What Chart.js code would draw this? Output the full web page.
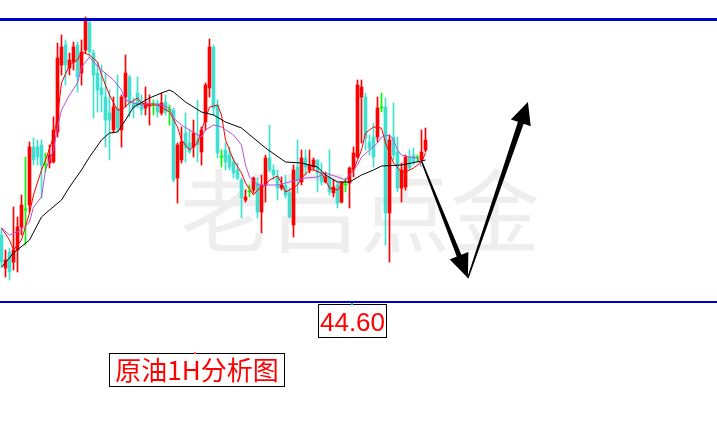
<!DOCTYPE html>
<html>
<head>
<meta charset="utf-8">
<script src="https://cdn.jsdelivr.net/npm/chart.js@4.4.1/dist/chart.umd.min.js"></script>
<style>
  html, body { margin: 0; padding: 0; background: #fff; }
  #chart { display: block; }
</style>
</head>
<body>
<canvas id="chart" width="717" height="440"></canvas>
<script>
// hourly candles
const opens = [
  45.27, 44.94, 45.10, 45.00, 45.12, 45.35, 45.52, 45.57, 46.15, 46.15,
  46.17, 45.97, 45.99, 46.00, 46.30, 46.97, 47.17, 46.94, 47.00, 47.17,
  46.89, 47.12, 47.39, 47.09, 46.89, 46.74, 46.65, 46.49, 46.32, 46.54,
  46.32, 46.65, 46.85, 46.59, 46.69, 46.59, 46.54, 46.56, 46.57, 46.59,
  46.49, 46.60, 46.52, 46.52, 45.84, 46.02, 46.29, 46.19, 46.15, 46.22,
  46.10, 46.40, 46.74, 47.15, 46.57, 46.05, 46.12, 46.07, 46.00, 45.92,
  45.82, 45.62, 45.70, 45.72, 45.79, 45.50, 45.77, 46.04, 45.92, 45.85,
  45.74, 45.77, 45.69, 45.37, 45.95, 45.80, 46.04, 45.92, 45.95, 46.02,
  45.89, 45.80, 45.84, 45.69, 45.77, 45.60, 45.77, 45.79, 45.92, 46.05,
  46.65, 46.65, 46.20, 46.25, 46.25, 46.54, 46.55, 45.49, 46.25, 46.10,
  45.74, 45.75, 46.05, 46.07, 46.04, 46.02, 46.12
];
const highs = [
  45.34, 45.12, 45.14, 45.55, 45.45, 45.67, 46.05, 46.20, 46.24, 46.22,
  46.22, 46.09, 46.17, 46.45, 47.19, 47.27, 47.22, 47.09, 47.20, 47.20,
  47.22, 47.45, 47.42, 47.12, 47.00, 46.97, 46.89, 46.72, 46.65, 46.87,
  46.67, 47.07, 46.87, 46.64, 46.85, 46.67, 46.75, 46.67, 46.62, 46.62,
  46.69, 46.67, 46.57, 46.54, 46.19, 46.35, 46.49, 46.32, 46.42, 46.62,
  46.35, 46.79, 47.23, 47.17, 46.62, 46.12, 46.19, 46.15, 46.04, 45.99,
  45.84, 45.72, 45.77, 45.85, 45.84, 45.87, 46.07, 46.37, 45.97, 45.92,
  45.85, 45.87, 45.74, 45.97, 46.22, 46.12, 46.12, 46.12, 46.04, 46.02,
  45.99, 45.90, 46.12, 45.82, 45.79, 45.80, 45.84, 45.95, 46.15, 46.82,
  46.82, 46.69, 46.27, 46.39, 46.65, 46.69, 46.64, 46.27, 46.59, 46.25,
  45.99, 46.07, 46.12, 46.14, 46.07, 46.32, 46.34
];
const lows = [
  44.94, 44.85, 44.82, 44.92, 44.90, 45.27, 45.17, 45.50, 45.97, 45.97,
  45.64, 45.90, 45.94, 45.99, 46.25, 46.87, 46.77, 46.87, 46.92, 46.70,
  46.77, 47.09, 47.05, 46.44, 46.50, 46.50, 46.15, 46.02, 46.29, 46.30,
  46.15, 46.55, 46.45, 46.44, 46.54, 46.47, 46.47, 46.37, 46.47, 46.45,
  46.47, 46.47, 46.37, 45.80, 45.59, 45.99, 46.00, 46.09, 46.05, 46.00,
  45.97, 46.32, 46.65, 46.47, 46.04, 45.95, 45.92, 45.92, 45.84, 45.82,
  45.44, 45.60, 45.65, 45.69, 45.44, 45.29, 45.60, 45.90, 45.82, 45.62,
  45.72, 45.64, 45.44, 45.25, 45.69, 45.77, 45.87, 45.89, 45.92, 45.70,
  45.77, 45.79, 45.67, 45.65, 45.54, 45.59, 45.70, 45.54, 45.85, 46.04,
  46.19, 46.12, 46.07, 45.95, 46.20, 46.50, 45.17, 45.00, 46.02, 45.70,
  45.60, 45.72, 45.92, 45.97, 46.00, 46.00, 46.10
];
const closes = [
  45.00, 45.02, 44.90, 45.12, 45.35, 45.57, 45.52, 46.15, 46.02, 46.05,
  45.97, 45.97, 46.07, 46.32, 47.04, 47.15, 46.97, 47.02, 47.15, 46.85,
  47.10, 47.42, 47.10, 46.87, 46.72, 46.67, 46.42, 46.42, 46.55, 46.34,
  46.65, 46.89, 46.59, 46.54, 46.57, 46.52, 46.59, 46.57, 46.57, 46.50,
  46.59, 46.50, 46.52, 45.82, 46.17, 46.20, 46.14, 46.10, 46.29, 46.17,
  46.32, 46.77, 47.15, 46.54, 46.09, 46.05, 46.00, 45.95, 45.89, 45.84,
  45.64, 45.65, 45.70, 45.84, 45.50, 45.77, 46.04, 45.92, 45.87, 45.74,
  45.77, 45.67, 45.45, 45.92, 45.82, 46.04, 45.95, 45.97, 46.02, 45.89,
  45.80, 45.85, 45.70, 45.75, 45.59, 45.79, 45.77, 45.94, 46.09, 46.77,
  46.75, 46.24, 46.14, 46.05, 46.54, 46.54, 45.49, 46.22, 46.07, 45.74,
  45.92, 46.05, 45.94, 46.00, 46.04, 46.10, 46.22
];

// moving averages at these candle indexes
const maFastIdx = [0,2,3,5,7,8,10,11,13,14,15,17,19,20,22,24,25,27,29,30,32,34,35,37,39,40,42,44,45,47,49,50,52,54,55,56,58,60,61,63,64,66,67,69,70,71,72,74,75,77,78,80,81,82,84,85,88,90,91,93,95,96,98,100,101,103,105,106];
const maFastVal = [45.34,45.22,45.12,45.22,45.49,45.67,45.92,46.02,46.25,46.45,46.79,46.97,47.02,47.10,47.07,47.00,46.87,46.67,46.52,46.52,46.59,46.64,46.59,46.57,46.57,46.55,46.50,46.35,46.22,46.12,46.19,46.32,46.55,46.57,46.47,46.22,46.02,45.89,45.79,45.67,45.72,45.77,45.82,45.86,45.79,45.70,45.72,45.77,45.84,45.92,45.92,45.89,45.82,45.74,45.72,45.77,45.92,46.12,46.29,46.35,46.34,46.19,45.99,45.90,45.90,45.94,46.00,46.09];
const maMidIdx = [0,2,5,7,8,10,11,13,14,15,17,19,20,22,23,25,28,30,31,33,35,37,40,42,43,45,47,50,51,53,55,58,60,61,62,64,66,69,71,74,76,79,81,84,86,87,89,90,92,94,95,97,98,99,100,102,104,105];
const maMidVal = [45.34,45.27,45.32,45.40,45.55,45.65,45.92,46.12,46.35,46.52,46.67,46.79,46.95,47.05,47.00,46.92,46.82,46.72,46.62,46.59,46.57,46.59,46.57,46.54,46.44,46.37,46.32,46.25,46.32,46.37,46.35,46.27,46.17,45.97,45.85,45.77,45.77,45.77,45.79,45.82,45.84,45.85,45.89,45.85,45.82,45.87,45.97,46.05,46.12,46.19,46.25,46.27,46.22,46.12,46.07,46.05,46.04,45.95];
const maSlowIdx = [0,3,7,10,12,15,17,20,22,25,27,29,31,33,37,40,42,43,46,50,53,56,60,66,71,75,79,81,84,87,90,93,95,100,105,106];
const maSlowVal = [44.95,45.09,45.22,45.45,45.52,45.62,45.75,45.92,46.05,46.22,46.29,46.30,46.42,46.55,46.64,46.69,46.72,46.70,46.60,46.50,46.47,46.40,46.34,46.14,46.00,45.99,45.95,45.87,45.80,45.80,45.87,45.92,45.96,45.97,46.01,46.02];

// level lines and the drawn forecast path (candle index, price)
const upperLevel = 47.425;
const lastPrice = 44.60;
const pathX = [105.1, 116.6, 131.6];
const pathY = [46.00, 44.84, 46.60];

const title = '原油1H分析图';
const watermark = '老吕点金';

const X_MIN = -0.375;
const X_MAX = X_MIN + 717 / 4;

const UP = '#FF0000';
const DOWN = '#40E0D0';
const FLAT = '#00FF00';

const candleColor = opens.map((o, i) =>
  closes[i] > o ? UP : closes[i] < o ? DOWN : FLAT);

const wicks = opens.map((o, i) => ({ x: i, y: [lows[i], highs[i]] }));
const bodies = opens.map((o, i) => ({ x: i, y: [o, closes[i]] }));

const toPoints = (idx, val) => idx.map((x, k) => ({ x: x, y: val[k] }));

function drawArrow(ctx, x0, y0, x1, y1, tailW, shaftW, headLen, headW) {
  const len = Math.hypot(x1 - x0, y1 - y0);
  const dx = (x1 - x0) / len, dy = (y1 - y0) / len;
  const nx = -dy, ny = dx;
  const bx = x1 - dx * headLen, by = y1 - dy * headLen;
  ctx.beginPath();
  ctx.moveTo(x0 + nx * tailW / 2, y0 + ny * tailW / 2);
  ctx.lineTo(bx + nx * shaftW / 2, by + ny * shaftW / 2);
  ctx.lineTo(bx + nx * headW / 2, by + ny * headW / 2);
  ctx.lineTo(x1, y1);
  ctx.lineTo(bx - nx * headW / 2, by - ny * headW / 2);
  ctx.lineTo(bx - nx * shaftW / 2, by - ny * shaftW / 2);
  ctx.lineTo(x0 - nx * tailW / 2, y0 - ny * tailW / 2);
  ctx.closePath();
  ctx.fill();
}

const overlay = {
  id: 'overlay',
  beforeDatasetsDraw(chart) {
    const ctx = chart.ctx;
    ctx.save();
    ctx.font = '90px "Noto Sans CJK SC"';
    ctx.fillStyle = '#EEEEEE';
    ctx.textAlign = 'center';
    ctx.textBaseline = 'middle';
    ctx.fillText(watermark, 360, 211);
    ctx.restore();
  },
  afterDatasetsDraw(chart) {
    const ctx = chart.ctx;
    const xs = chart.scales.x, ys = chart.scales.y;
    const px = pathX.map(v => xs.getPixelForValue(v));
    const py = pathY.map(v => ys.getPixelForValue(v));
    ctx.save();
    ctx.fillStyle = '#000';
    drawArrow(ctx, px[0], py[0], px[1], py[1], 1.5, 5, 24, 20);
    drawArrow(ctx, px[1], py[1], px[2], py[2], 1.5, 6, 22, 21);
    ctx.restore();
  },
  afterDraw(chart) {
    const ctx = chart.ctx;
    const ys = chart.scales.y;
    const lineY = ys.getPixelForValue(lastPrice);
    ctx.save();
    ctx.strokeStyle = '#000';
    ctx.lineWidth = 1;
    ctx.fillStyle = '#fff';
    ctx.fillRect(318.5, lineY + 2.5, 68, 33);
    ctx.strokeRect(318.5, lineY + 2.5, 68, 33);
    ctx.fillStyle = '#FF0000';
    ctx.font = '26px "Liberation Sans"';
    ctx.textAlign = 'center';
    ctx.textBaseline = 'alphabetic';
    ctx.fillText(lastPrice.toFixed(2), 352.5, lineY + 29);

    ctx.strokeRect(109.5, 353.5, 175, 33);
    ctx.font = '26px "Noto Sans CJK SC"';
    ctx.textBaseline = 'middle';
    ctx.fillText(title, 197, 370);

    ctx.fillStyle = '#00BFBF';
    ctx.fillRect(351, lineY + 1, 2, 2);
    ctx.fillStyle = '#FF6060';
    ctx.fillRect(194, 352, 2, 2);
    ctx.restore();
  }
};

new Chart(document.getElementById('chart'), {
  type: 'bar',
  data: {
    datasets: [
      {
        type: 'line',
        data: [{ x: X_MIN, y: upperLevel }, { x: X_MAX, y: upperLevel }],
        borderColor: '#0000CC', borderWidth: 3, pointRadius: 0, order: 2
      },
      {
        type: 'line',
        data: [{ x: X_MIN, y: lastPrice }, { x: X_MAX, y: lastPrice }],
        borderColor: '#0000CC', borderWidth: 2, pointRadius: 0, order: 2
      },
      {
        data: wicks,
        backgroundColor: candleColor,
        barThickness: 1, grouped: false, borderWidth: 0, order: 4
      },
      {
        data: bodies,
        backgroundColor: candleColor,
        barThickness: 3, grouped: false, borderWidth: 0, minBarLength: 1, order: 3
      },
      {
        type: 'line', data: toPoints(maSlowIdx, maSlowVal),
        borderColor: '#000000', borderWidth: 1, pointRadius: 0, order: 1
      },
      {
        type: 'line', data: toPoints(maMidIdx, maMidVal),
        borderColor: '#B850D8', borderWidth: 1, pointRadius: 0, order: 1
      },
      {
        type: 'line', data: toPoints(maFastIdx, maFastVal),
        borderColor: '#FF0000', borderWidth: 1, pointRadius: 0, order: 1
      }
    ]
  },
  options: {
    responsive: false,
    animation: false,
    devicePixelRatio: 1,
    layout: { padding: 0 },
    plugins: { legend: { display: false }, tooltip: { enabled: false } },
    scales: {
      x: { type: 'linear', min: X_MIN, max: X_MAX, display: false, offset: false },
      y: { min: 43.22, max: 47.62, display: false }
    }
  },
  plugins: [overlay]
});
</script>
</body>
</html>
